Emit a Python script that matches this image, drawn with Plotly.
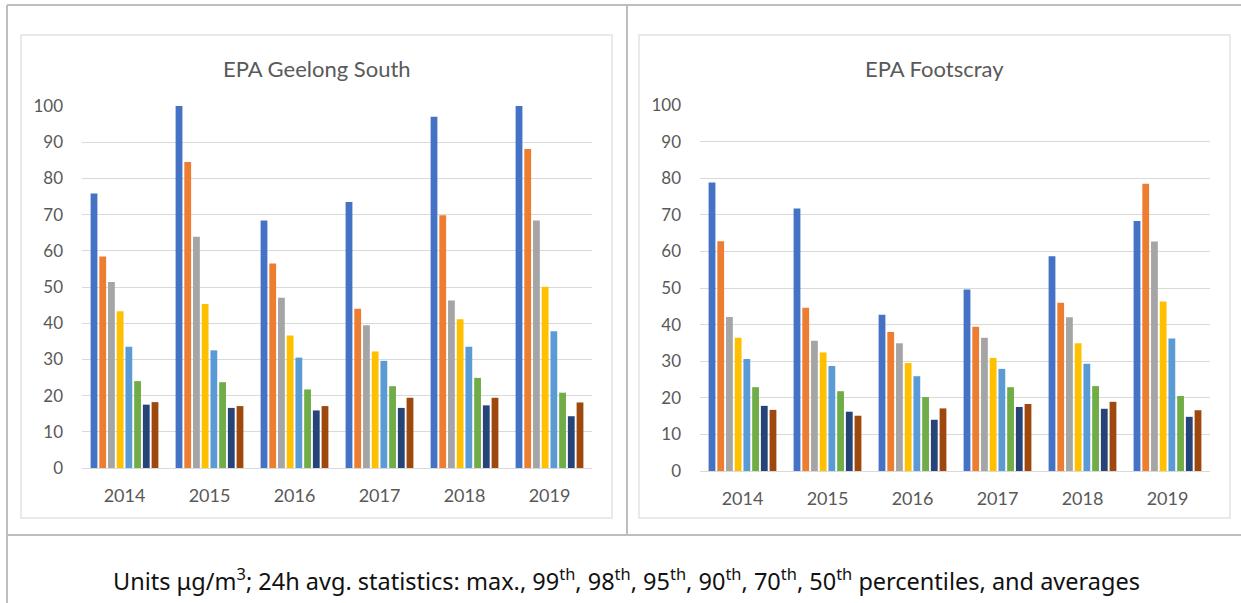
import plotly.graph_objects as go

years = ["2014", "2015", "2016", "2017", "2018", "2019"]
series_names = ["max.", "99th", "98th", "95th", "90th", "70th", "50th", "average"]
colors = ["#4472C4", "#ED7D31", "#A5A5A5", "#FFC000", "#5B9BD5", "#70AD47", "#264478", "#9E480E"]

# EPA Geelong South, per statistic, values for 2014..2019
geelong_max = [75.8, 100, 68.4, 73.5, 97.0, 100]
geelong_p99 = [58.4, 84.5, 56.5, 44.0, 69.8, 88.1]
geelong_p98 = [51.4, 63.9, 47.0, 39.4, 46.3, 68.4]
geelong_p95 = [43.3, 45.3, 36.6, 32.2, 41.1, 50.1]
geelong_p90 = [33.5, 32.5, 30.5, 29.6, 33.5, 37.8]
geelong_p70 = [24.0, 23.7, 21.7, 22.6, 24.9, 20.8]
geelong_p50 = [17.5, 16.6, 15.9, 16.6, 17.3, 14.3]
geelong_avg = [18.2, 17.1, 17.1, 19.4, 19.4, 18.1]

# EPA Footscray
footscray_max = [78.8, 71.7, 42.7, 49.6, 58.7, 68.3]
footscray_p99 = [62.8, 44.6, 38.0, 39.4, 46.0, 78.5]
footscray_p98 = [42.1, 35.6, 34.9, 36.4, 42.0, 62.7]
footscray_p95 = [36.4, 32.4, 29.5, 30.9, 34.9, 46.3]
footscray_p90 = [30.6, 28.7, 25.9, 27.9, 29.3, 36.2]
footscray_p70 = [22.9, 21.8, 20.2, 22.9, 23.2, 20.5]
footscray_p50 = [17.8, 16.2, 14.0, 17.5, 17.0, 14.8]
footscray_avg = [16.7, 15.1, 17.1, 18.3, 18.9, 16.6]

geelong = [geelong_max, geelong_p99, geelong_p98, geelong_p95,
           geelong_p90, geelong_p70, geelong_p50, geelong_avg]
footscray = [footscray_max, footscray_p99, footscray_p98, footscray_p95,
             footscray_p90, footscray_p70, footscray_p50, footscray_avg]

titles = ["EPA Geelong South", "EPA Footscray"]
caption = ("Units \u03bcg/m<sup>3</sup>; 24h avg. statistics: max., 99<sup>th</sup>, 98<sup>th</sup>, "
           "95<sup>th</sup>, 90<sup>th</sup>, 70<sup>th</sup>, 50<sup>th</sup> percentiles, and averages")

W, H = 1241, 603

def px(x):
    return x / W

def py(y):
    return 1 - y / H

fig = go.Figure()
for i, name in enumerate(series_names):
    fig.add_trace(go.Bar(x=years, y=geelong[i], name=name, marker_color=colors[i],
                         marker_line_width=0, xaxis="x", yaxis="y", showlegend=False))
for i, name in enumerate(series_names):
    fig.add_trace(go.Bar(x=years, y=footscray[i], name=name, marker_color=colors[i],
                         marker_line_width=0, xaxis="x2", yaxis="y2", showlegend=False))

tick_font = dict(family="Lato, 'Open Sans', sans-serif", size=17, color="#595959")
xtick_font = dict(family="Lato, 'Open Sans', sans-serif", size=18, color="#595959")

yaxis_common = dict(range=[0, 100], dtick=10, showgrid=True, gridcolor="#D9D9D9", gridwidth=1,
                    zeroline=True, zerolinecolor="#D9D9D9", zerolinewidth=1, showline=False,
                    ticks="", tickfont=tick_font, ticklabelstandoff=18, fixedrange=True,
                    automargin=False)
xaxis_common = dict(showgrid=False, showline=False, ticks="", tickfont=xtick_font,
                    ticklabelstandoff=15, fixedrange=True, automargin=False)

fig.update_layout(
    width=W, height=H, autosize=False,
    margin=dict(l=0, r=0, t=0, b=0, pad=0, autoexpand=False),
    paper_bgcolor="white", plot_bgcolor="white",
    barmode="group", bargap=0.18, bargroupgap=0.22,
    xaxis=dict(domain=[px(82), px(592)], anchor="y", **xaxis_common),
    yaxis=dict(domain=[py(468), py(106)], anchor="x", **yaxis_common),
    xaxis2=dict(domain=[px(700), px(1210)], anchor="y2", **xaxis_common),
    yaxis2=dict(domain=[py(471), py(105)], anchor="x2", **yaxis_common),
)

frame_color = "#BDBDBD"
shapes = [
    # outer table lines
    dict(type="line", xref="paper", yref="paper", x0=px(7), x1=1, y0=py(5), y1=py(5),
         line=dict(color=frame_color, width=2)),
    dict(type="line", xref="paper", yref="paper", x0=px(7), x1=px(7), y0=py(5), y1=0,
         line=dict(color=frame_color, width=2)),
    dict(type="line", xref="paper", yref="paper", x0=px(627), x1=px(627), y0=py(5), y1=py(535),
         line=dict(color=frame_color, width=2)),
    dict(type="line", xref="paper", yref="paper", x0=px(7), x1=1, y0=py(535), y1=py(535),
         line=dict(color=frame_color, width=2)),
    # chart boxes
    dict(type="rect", xref="paper", yref="paper", x0=px(21), x1=px(612), y0=py(518), y1=py(35),
         line=dict(color="#E3E3E3", width=1.5), layer="below"),
    dict(type="rect", xref="paper", yref="paper", x0=px(639), x1=px(1230), y0=py(518), y1=py(35),
         line=dict(color="#E3E3E3", width=1.5), layer="below"),
]
fig.update_layout(shapes=shapes)

title_font = dict(family="Lato, 'Open Sans', sans-serif", size=22, color="#595959")
annotations = [
    dict(text=titles[0], xref="paper", yref="paper", x=px(316.5), y=py(68),
         xanchor="center", yanchor="middle", showarrow=False, font=title_font),
    dict(text=titles[1], xref="paper", yref="paper", x=px(934.5), y=py(68),
         xanchor="center", yanchor="middle", showarrow=False, font=title_font),
    dict(text=caption, xref="paper", yref="paper", x=px(626), y=py(579),
         xanchor="center", yanchor="middle", showarrow=False,
         font=dict(family="'Noto Sans', sans-serif", size=23.5, color="#111111")),
]
fig.update_layout(annotations=annotations)

fig.write_html(
    "out.html",
    config={"displayModeBar": False, "staticPlot": True},
    post_script="document.body.style.margin='0px';document.documentElement.style.overflow='hidden';",
)
